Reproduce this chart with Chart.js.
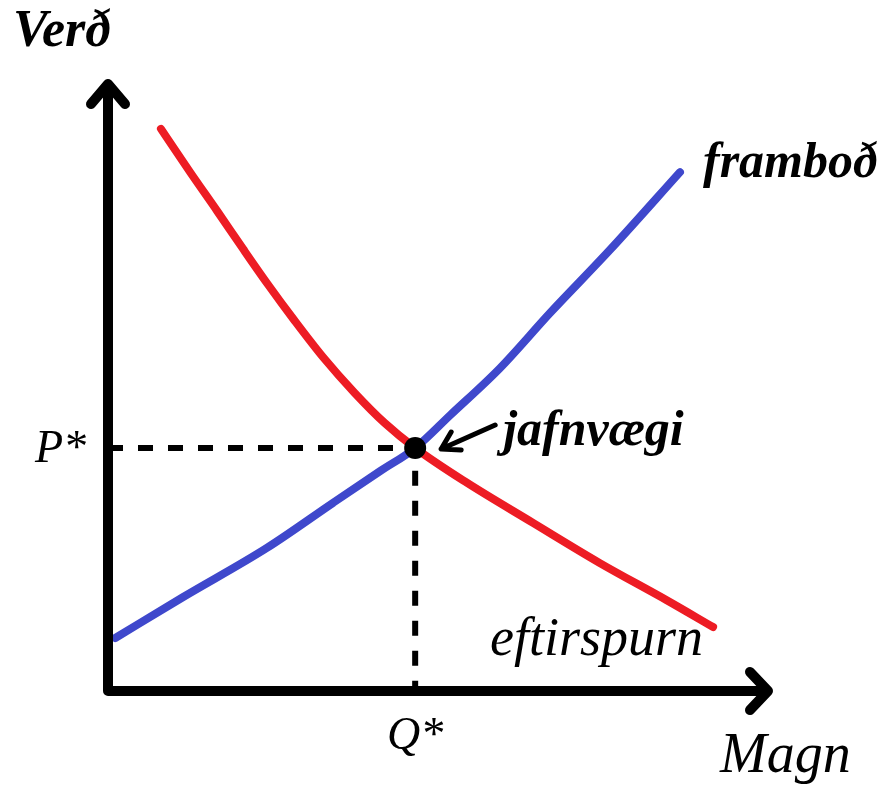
<!DOCTYPE html>
<html>
<head>
<meta charset="utf-8">
<title>Framboð og eftirspurn</title>
<script src="https://cdn.jsdelivr.net/npm/chart.js@4"></script>
<style>
  html, body { margin: 0; padding: 0; background: #fff; }
  canvas { display: block; }
</style>
</head>
<body>
<canvas id="myChart" width="884" height="785"></canvas>
<script>
// gögn (lesin af myndinni, einingar 0-10 á báðum ásum)
const frambodX = [0.11, 1.13, 2.40, 3.40, 4.11, 4.64, 5.17, 5.92, 6.68, 7.58, 8.64];
const frambodY = [0.87, 1.54, 2.35, 3.09, 3.61, 3.99, 4.53, 5.30, 6.21, 7.24, 8.52];

const eftirspurnX = [0.80, 1.24, 1.65, 2.04, 2.40, 2.82, 3.25, 3.73, 4.18, 4.64, 5.42, 6.42, 7.43, 8.44, 9.14];
const eftirspurnY = [9.23, 8.52, 7.88, 7.26, 6.70, 6.08, 5.48, 4.89, 4.40, 3.99, 3.42, 2.76, 2.10, 1.49, 1.05];

const jafnvaegiX = [4.64];
const jafnvaegiY = [3.99];

const xTickValues = [4.64];
const xTickLabels = ['Q*'];
const yTickValues = [3.99];
const yTickLabels = ['P*'];

const xAxisTitle = 'Magn';
const yAxisTitle = 'Verð';

function toPoints(xs, ys){
	let pts = [];
	for(let i = 0; i < xs.length; i++){
		pts.push({x: xs[i], y: ys[i]});
	}
	return pts;
}

const guide = [
	{x: 0, y: jafnvaegiY[0]},
	{x: jafnvaegiX[0], y: jafnvaegiY[0]},
	{x: jafnvaegiX[0], y: 0}
];

const BOLD = 'italic bold 50px "Liberation Serif", serif';
const REG = 'italic 54px "Liberation Serif", serif';

// ásar, örvar og textar
const drawExtras = {
	id: 'drawExtras',
	afterDraw(chart){
		const ctx = chart.ctx;
		const a = chart.chartArea;
		const xs = chart.scales.x;
		const ys = chart.scales.y;

		ctx.save();
		ctx.strokeStyle = '#000';
		ctx.lineWidth = 10;
		ctx.lineCap = 'round';
		ctx.lineJoin = 'round';

		// ásalínur
		ctx.beginPath();
		ctx.moveTo(a.left, a.top + 4);
		ctx.lineTo(a.left, a.bottom);
		ctx.lineTo(a.right - 4, a.bottom);
		ctx.stroke();

		// örvar
		ctx.beginPath();
		ctx.moveTo(a.left - 17, a.top + 22);
		ctx.lineTo(a.left, a.top + 2);
		ctx.lineTo(a.left + 17, a.top + 22);
		ctx.moveTo(a.right - 20, a.bottom - 19);
		ctx.lineTo(a.right - 2, a.bottom);
		ctx.lineTo(a.right - 20, a.bottom + 19);
		ctx.stroke();

		// ör að jafnvægispunkti
		const px = xs.getPixelForValue(jafnvaegiX[0]);
		const py = ys.getPixelForValue(jafnvaegiY[0]);
		ctx.lineWidth = 5;
		ctx.beginPath();
		ctx.moveTo(px + 80, py - 23);
		ctx.lineTo(px + 26, py + 1);
		ctx.moveTo(px + 36, py - 16);
		ctx.lineTo(px + 26, py + 1);
		ctx.lineTo(px + 46, py + 2);
		ctx.stroke();

		// textar
		ctx.fillStyle = '#000';
		ctx.textBaseline = 'alphabetic';
		ctx.textAlign = 'left';
		ctx.font = 'italic bold 52px "Liberation Serif", serif';
		ctx.fillText(yAxisTitle, 13, 46);
		ctx.font = BOLD;
		ctx.fillText('framboð', 703, 177);
		ctx.fillText('jafnvægi', px + 88, py - 3);
		ctx.font = REG;
		ctx.fillText('eftirspurn', 490, 655);
		ctx.font = 'italic 56px "Liberation Serif", serif';
		ctx.fillText(xAxisTitle, 720, 772);

		ctx.font = 'italic 46px "Liberation Serif", serif';
		ctx.textAlign = 'center';
		for(let i = 0; i < xTickValues.length; i++){
			ctx.fillText(xTickLabels[i], xs.getPixelForValue(xTickValues[i]), a.bottom + 58);
		}
		ctx.textAlign = 'right';
		ctx.textBaseline = 'middle';
		for(let i = 0; i < yTickValues.length; i++){
			ctx.fillText(yTickLabels[i], a.left - 22, ys.getPixelForValue(yTickValues[i]) + 2);
		}
		ctx.restore();
	}
};

const ctx = document.getElementById('myChart');

new Chart(ctx, {
	type: 'scatter',
	data: {
		datasets: [
			{
				label: 'jafnvægi',
				data: toPoints(jafnvaegiX, jafnvaegiY),
				pointRadius: 11,
				pointBackgroundColor: '#000',
				pointBorderWidth: 0,
				showLine: false
			},
			{
				label: 'eftirspurn',
				data: toPoints(eftirspurnX, eftirspurnY),
				showLine: true,
				borderColor: '#ed1c24',
				borderWidth: 8,
				borderCapStyle: 'round',
				cubicInterpolationMode: 'monotone',
				pointRadius: 0
			},
			{
				label: 'framboð',
				data: toPoints(frambodX, frambodY),
				showLine: true,
				borderColor: '#3f48cc',
				borderWidth: 8,
				borderCapStyle: 'round',
				cubicInterpolationMode: 'monotone',
				pointRadius: 0
			},
			{
				label: 'guide',
				data: guide,
				showLine: true,
				borderColor: '#000',
				borderWidth: 6,
				borderDash: [15, 15],
				tension: 0,
				pointRadius: 0
			}
		]
	},
	options: {
		responsive: false,
		animation: false,
		layout: {
			padding: {left: 108, top: 82, right: 114, bottom: 94}
		},
		plugins: {
			legend: {display: false},
			tooltip: {enabled: false}
		},
		scales: {
			x: {type: 'linear', min: 0, max: 10, display: false},
			y: {type: 'linear', min: 0, max: 10, display: false}
		}
	},
	plugins: [drawExtras]
});
</script>
</body>
</html>
